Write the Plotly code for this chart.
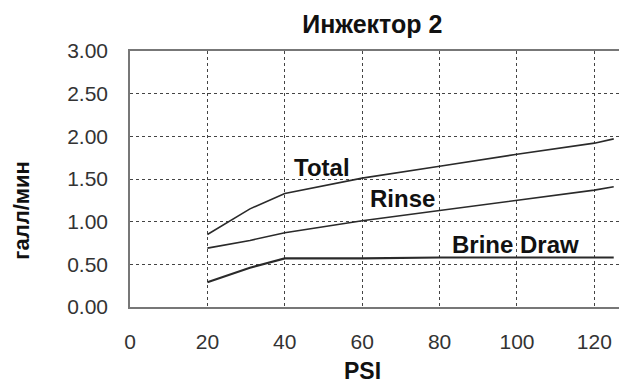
import plotly.graph_objects as go

# PSI readings
psi = [20, 31, 40, 60, 80, 100, 120, 125]

# flow in gal/min
total = [0.85, 1.15, 1.33, 1.51, 1.65, 1.79, 1.92, 1.97]
rinse = [0.69, 0.78, 0.87, 1.01, 1.13, 1.25, 1.37, 1.41]
brine_draw = [0.29, 0.46, 0.57, 0.57, 0.58, 0.58, 0.58, 0.58]

series_names = ['Total', 'Rinse', 'Brine Draw']
label_x = [49.5, 70.3, 99.5]
label_y = [1.63, 1.27, 0.73]

y_ticks = [0, 0.5, 1, 1.5, 2, 2.5, 3]
x_ticks = [0, 20, 40, 60, 80, 100, 120]

FONT = 'Liberation Sans, Arial, sans-serif'

fig = go.Figure()

for name, vals, w in zip(series_names, [total, rinse, brine_draw], [1.6, 1.6, 2.2]):
    fig.add_trace(
        go.Scatter(
            x=psi,
            y=vals,
            name=name,
            mode='lines',
            line=dict(color='#2a2a2a', width=w),
            showlegend=False,
        )
    )

for name, lx, ly in zip(series_names, label_x, label_y):
    fig.add_annotation(
        x=lx, y=ly, text='<b>%s</b>' % name, showarrow=False,
        font=dict(family=FONT, size=24, color='#111'),
    )

# axis titles as paper annotations so they sit where the original has them
fig.add_annotation(
    xref='paper', yref='paper', x=0.461, y=-0.25,
    text='<b>PSI</b>', showarrow=False, yanchor='middle',
    font=dict(family=FONT, size=23, color='#111'),
)
fig.add_annotation(
    xref='paper', yref='paper', x=-0.214, y=0.38,
    text='<b>галл/мин</b>', showarrow=False, textangle=-90,
    xanchor='center', yanchor='middle',
    font=dict(family=FONT, size=22, color='#111'),
)

# page body adds an 8px offset, so margins are trimmed by that much
fig.update_layout(
    width=627,
    height=386,
    margin=dict(l=122, r=0, t=43, b=87),
    paper_bgcolor='white',
    plot_bgcolor='white',
    title=dict(
        text='<b>Инжектор 2</b>',
        x=0.581, xanchor='center',
        y=0.958, yanchor='middle',
        font=dict(family=FONT, size=25, color='#111'),
    ),
)

fig.update_xaxes(
    range=[0, 130.5],
    tickvals=x_ticks,
    ticktext=[str(v) for v in x_ticks],
    showline=True, linecolor='#777', linewidth=1.5, mirror=True,
    showgrid=True, gridcolor='#444', gridwidth=1.3, griddash='dot',
    zeroline=False,
    ticks='', ticklabelstandoff=15,
    tickfont=dict(family=FONT, size=21, color='#333'),
)

fig.update_yaxes(
    range=[0, 3],
    tickvals=y_ticks,
    ticktext=['%.2f' % v for v in y_ticks],
    showline=True, linecolor='#777', linewidth=1.5,
    showgrid=True, gridcolor='#444', gridwidth=1.3, griddash='dot',
    zeroline=False,
    ticks='', ticklabelstandoff=16,
    tickfont=dict(family=FONT, size=21, color='#333'),
)

fig.write_html('out.html')
